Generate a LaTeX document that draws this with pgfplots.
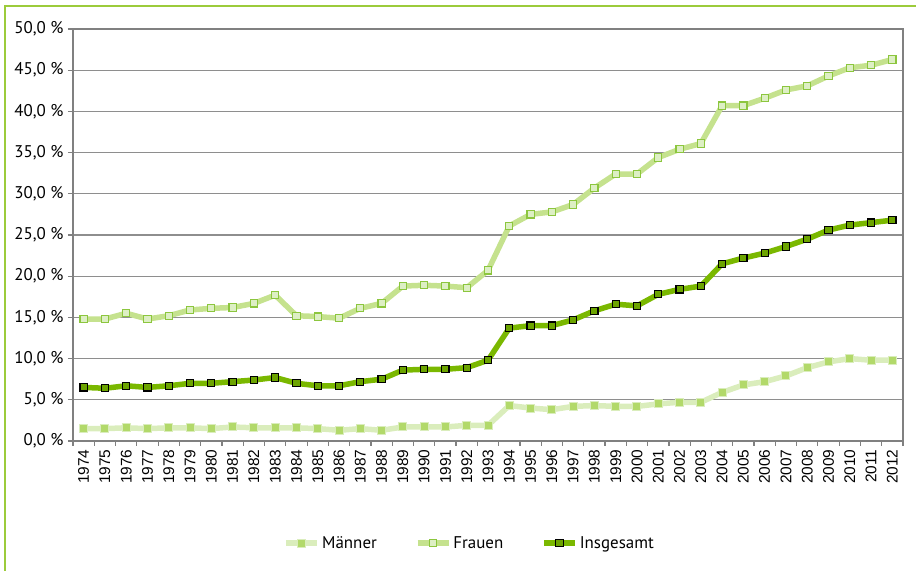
\documentclass[border=0pt]{standalone}
\usepackage{pgfplots}
\usepackage{pgfplotstable}
\pgfplotsset{compat=1.18}
\usepackage{fontspec}
\setmainfont{PT Sans}
\newfontfamily\arialf{Liberation Sans}
\definecolor{frame}{HTML}{9CCB3B}
\definecolor{gridc}{HTML}{8E8E8E}
\definecolor{axisc}{HTML}{808080}
\definecolor{mline}{HTML}{DAEDBC}
\definecolor{mmark}{HTML}{B2D96A}
\definecolor{fline}{HTML}{C5E28E}
\definecolor{fmark}{HTML}{8CC63E}
\definecolor{ffill}{HTML}{DDEFC4}
\definecolor{iline}{HTML}{7AB800}
\definecolor{ifill}{HTML}{6CA400}

\pgfplotstableread{
x M F I
0 1.5 14.8 6.5
1 1.5 14.8 6.4
2 1.6 15.5 6.7
3 1.5 14.8 6.5
4 1.6 15.2 6.7
5 1.6 15.9 7.0
6 1.5 16.1 7.0
7 1.7 16.2 7.2
8 1.6 16.7 7.4
9 1.6 17.7 7.7
10 1.6 15.2 7.0
11 1.5 15.1 6.7
12 1.3 14.9 6.7
13 1.5 16.1 7.2
14 1.3 16.7 7.5
15 1.7 18.8 8.6
16 1.7 18.9 8.7
17 1.7 18.8 8.7
18 1.9 18.6 8.9
19 1.9 20.7 9.8
20 4.3 26.1 13.7
21 4.0 27.5 14.0
22 3.8 27.8 14.0
23 4.2 28.7 14.7
24 4.3 30.7 15.8
25 4.2 32.4 16.6
26 4.2 32.4 16.4
27 4.5 34.4 17.8
28 4.7 35.4 18.4
29 4.7 36.1 18.8
30 5.9 40.7 21.5
31 6.8 40.7 22.2
32 7.2 41.6 22.8
33 7.9 42.6 23.6
34 8.9 43.1 24.5
35 9.6 44.3 25.6
36 10.0 45.3 26.2
37 9.8 45.6 26.5
38 9.8 46.3 26.8
}\data

\begin{document}
\begin{tikzpicture}[x=1bp,y=1bp]
\path[use as bounding box] (0,0) rectangle (916,571);
\draw[frame, line width=1.6bp] (5,0) -- (5,565) -- (916,565);
\begin{axis}[
  at={(73bp,130bp)}, anchor=south west,
  scale only axis, width=830bp, height=412bp,
  xmin=-0.5, xmax=38.5, ymin=0, ymax=50,
  axis line style={axisc, line width=1.4bp},
  ytick={0,5,...,50},
  yticklabels={{0,0 \%},{5,0 \%},{10,0 \%},{15,0 \%},{20,0 \%},{25,0 \%},{30,0 \%},{35,0 \%},{40,0 \%},{45,0 \%},{50,0 \%}},
  yticklabel style={font=\fontsize{17}{18}\selectfont, xshift=-1bp},
  ymajorgrids, grid style={gridc, line width=1.3bp},
  xtick={0,...,38},
  xticklabels={1974,1975,1976,1977,1978,1979,1980,1981,1982,1983,1984,1985,1986,1987,1988,1989,1990,1991,1992,1993,1994,1995,1996,1997,1998,1999,2000,2001,2002,2003,2004,2005,2006,2007,2008,2009,2010,2011,2012},
  xticklabel style={rotate=90, anchor=east, font=\arialf\fontsize{15.5}{16}\selectfont},
  minor xtick={-0.5,0.5,...,38.5},
  tick style={axisc, line width=1.2bp},
  major x tick style={draw=none},
  major tick length=5bp, minor tick length=5bp,
  tick align=outside, xtick pos=bottom, ytick pos=left,
  legend columns=3,
  legend style={draw=none, fill=none, at={(0.478,-0.248)}, anchor=center,
    font=\fontsize{17}{18}\selectfont,
    /tikz/every even column/.append style={column sep=36bp}},
  legend image code/.code={
    \draw[#1, mark=none] (0bp,0bp) -- (31bp,0bp);
    \draw[#1, only marks] plot coordinates {(15.5bp,0bp)};
  },
]
\addplot[mline, line width=5.5bp, mark=square*, mark size=4bp, mark options={draw=none, fill=mmark, line width=0pt}] table[x=x,y=M]{\data};
\addlegendentry{Männer}
\addplot[fline, line width=5.5bp, mark=square*, mark size=3.6bp, mark options={draw=fmark, fill=ffill, line width=1.1bp}] table[x=x,y=F]{\data};
\addlegendentry{Frauen}
\addplot[iline, line width=5.5bp, mark=square*, mark size=3.6bp, mark options={draw=black, fill=ifill, line width=1.1bp}] table[x=x,y=I]{\data};
\addlegendentry{Insgesamt}
\end{axis}
\end{tikzpicture}
\end{document}
